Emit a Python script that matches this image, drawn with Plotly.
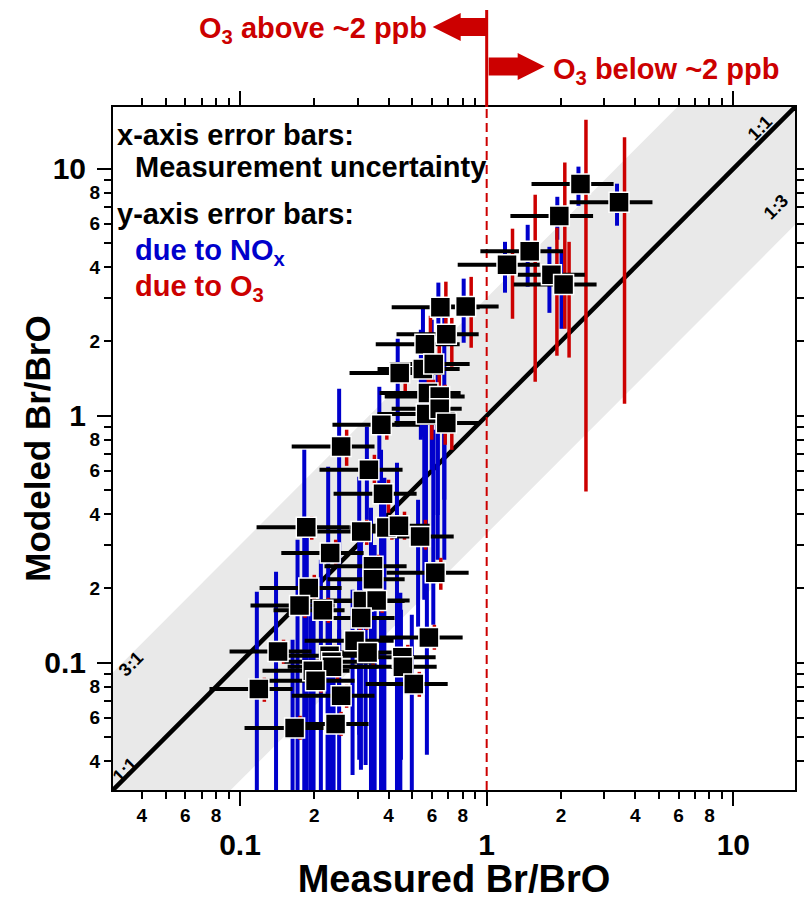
import numpy as np
import plotly.graph_objects as go

# ---------------- data ----------------
measured = [2.40, 3.44, 1.97, 1.494, 1.209, 1.83, 2.05, 0.822,
            0.649, 0.686, 0.562, 0.551, 0.610, 0.444, 0.578, 0.645, 0.569, 0.645, 0.686, 0.374,
            0.257, 0.333, 0.380, 0.1856, 0.310, 0.392, 0.441, 0.537, 0.232, 0.346, 0.346, 0.619,
            0.190, 0.1743, 0.2167, 0.315, 0.358, 0.310, 0.1426, 0.2913, 0.329, 0.583, 0.455,
            0.4575, 0.5065, 0.2307, 0.235, 0.236, 0.1973, 0.2024, 0.1192, 0.257, 0.1664, 0.244]
modeled = [8.67, 7.31, 6.44, 4.63, 4.09, 3.72, 3.40, 2.77,
           2.75, 2.14, 1.95, 1.546, 1.62, 1.489, 1.236, 1.197, 1.016, 1.067, 0.934, 0.920,
           0.751, 0.604, 0.483, 0.354, 0.340, 0.353, 0.3585, 0.3245, 0.278, 0.246, 0.218, 0.2314,
           0.201, 0.1706, 0.1631, 0.178, 0.1787, 0.1517, 0.111, 0.1227, 0.110, 0.1265, 0.1054,
           0.0963, 0.082, 0.1067, 0.1009, 0.0963, 0.0928, 0.0845, 0.0784, 0.0735, 0.0544, 0.0565]
meas_low = [1.52, 2.17, 1.248, 0.943, 0.763, 1.336, 1.287, 0.598,
            0.412, 0.431, 0.355, 0.361, 0.404, 0.278, 0.368, 0.386, 0.361, 0.412, 0.423, 0.237,
            0.162, 0.210, 0.2395, 0.1167, 0.206, 0.278, 0.305, 0.412, 0.147, 0.220, 0.2265, 0.393,
            0.120, 0.1103, 0.1367, 0.1913, 0.2306, 0.210, 0.0907, 0.1827, 0.210, 0.368, 0.305,
            0.278, 0.323, 0.1515, 0.1515, 0.156, 0.1234, 0.1257, 0.0752, 0.162, 0.1043, 0.156]
meas_high = [3.27, 4.70, 2.70, 2.04, 1.64, 2.50, 2.79, 1.118,
             0.937, 0.928, 0.777, 0.777, 0.853, 0.675, 0.784, 0.814, 0.742, 0.792, 0.937, 0.535,
             0.351, 0.456, 0.520, 0.278, 0.465, 0.535, 0.587, 0.735, 0.317, 0.4735, 0.465, 0.845,
             0.258, 0.2416, 0.2654, 0.465, 0.487, 0.423, 0.195, 0.4195, 0.465, 0.799, 0.621,
             0.627, 0.695, 0.368, 0.351, 0.361, 0.278, 0.2913, 0.1633, 0.351, 0.218, 0.332]
nox_high = [10.2, 8.70, 7.70, 5.93, 5.06, 4.83, 4.57, 3.59,
            3.46, 2.95, 2.74, 2.23, 2.45, 2.05, 1.766, 1.685, 1.399, 1.335, 1.216, 1.31,
            1.286, 0.903, 0.728, 0.728, 0.566, 0.561, 0.645, 0.457, 0.622, 0.424, 0.379, 0.878,
            0.3206, 0.315, 0.261, 0.315, 0.300, 0.238, 0.2335, 0.1975, 0.180, 0.2108, 0.192,
            0.1638, 0.1564, 0.180, 0.1717, 0.1638, 0.180, 0.1638, 0.194, 0.136, 0.124, 0.1129]
nox_low = [7.08, 5.88, 5.16, 3.33, 3.15, 2.61, 2.25, 1.975,
           2.23, 0.457, 0.822, 0.800, 0.604, 0.903, 0.1975, 0.261, 0.180, 0.397, 0.261, 0.457,
           0.0777, 0.379, 0.02, 0.02, 0.0511, 0.02, 0.02, 0.140, 0.02, 0.02, 0.02, 0.1425,
           0.02, 0.02, 0.02, 0.0369, 0.02, 0.0405, 0.02, 0.0351, 0.0386, 0.0424, 0.02,
           0.0405, 0.02, 0.02, 0.02, 0.02, 0.02, 0.02, 0.02, 0.02, 0.02, 0.02]
o3_high = [15.8, 13.4, 10.6, 7.85, 5.72, 5.77, 5.06, 3.65,
           3.49, 2.49, 2.54, 2.03, 2.13, 1.536, 1.399, 1.335, 1.16, 1.16, 0.853, 1.028,
           0.878, 0.695, 0.551, 0.390, 0.379, 0.397, 0.409, 0.379, 0.315, 0.2737, 0.2446, 0.266,
           0.227, 0.192, 0.1833, 0.201, 0.201, 0.170, 0.124, 0.1385, 0.124, 0.1425, 0.1182,
           0.1077, 0.0919, 0.1182, 0.1129, 0.1077, 0.1028, 0.0937, 0.087, 0.0814, 0.061, 0.0633]
o3_low = [0.494, 1.118, 2.25, 1.373, 2.47, 1.75, 1.72, 1.885,
          2.29, 1.58, 1.16, 1.16, 0.963, 1.194, 0.963, 1.057, 0.800, 0.763, 0.728, 0.800,
          0.627, 0.526, 0.405, 0.315, 0.300, 0.315, 0.315, 0.287, 0.249, 0.221, 0.194, 0.1975,
          0.180, 0.152, 0.1451, 0.158, 0.1594, 0.136, 0.099, 0.1087, 0.098, 0.1129, 0.0937,
          0.0853, 0.0728, 0.0954, 0.0902, 0.0853, 0.083, 0.0756, 0.0695, 0.0657, 0.0488, 0.0506]

major_vals = [0.1, 1, 10]
major_text = ["0.1", "1", "10"]
minor_label_vals = [0.04, 0.06, 0.08, 0.2, 0.4, 0.6, 0.8, 2, 4, 6, 8]
minor_label_text = ["4", "6", "8", "2", "4", "6", "8", "2", "4", "6", "8"]
minor_plain_vals = [0.03, 0.05, 0.07, 0.09, 0.3, 0.5, 0.7, 0.9, 3, 5, 7, 9]

# ---------------- layout constants ----------------
W, H = 804, 900
ML, MR, MT, MB = 113, 9, 107, 110
PW, PH = W - ML - MR, H - MT - MB
LOG_MIN, LOG_MAX = -1.515, 1.25
FONT = "Liberation Sans, Arial, Helvetica, sans-serif"
RED = "#cc0000"
BLUE = "#0000cc"

def px(xpix):
    return (xpix - ML) / PW

def py(ypix):
    return (H - MB - ypix) / PH

vmin, vmax = 10 ** LOG_MIN, 10 ** LOG_MAX
dec_px = PW / (LOG_MAX - LOG_MIN)
m = np.array(measured); mo = np.array(modeled)

fig = go.Figure()

# grey band between 3:1 and 1:3
band_x = [vmin, vmax / 3, vmax, vmax, 3 * vmin, vmin]
band_y = [3 * vmin, vmax, vmax, vmax / 3, vmin, vmin]
fig.add_trace(go.Scatter(x=band_x, y=band_y, fill="toself", fillcolor="#e9e9e9",
                         line=dict(width=0), mode="lines", hoverinfo="skip", showlegend=False))
# 1:1 line
fig.add_trace(go.Scatter(x=[vmin, vmax], y=[vmin, vmax], mode="lines",
                         line=dict(color="black", width=4.5), hoverinfo="skip", showlegend=False))
# dashed x = 1 line
fig.add_trace(go.Scatter(x=[1, 1], y=[vmin, vmax], mode="lines",
                         line=dict(color=RED, width=2, dash="9px,5px"), hoverinfo="skip", showlegend=False))

# y-error bars due to NOx (blue, slightly left) and due to O3 (red, slightly right)
fb = 10 ** (-2.0 / dec_px)
fr = 10 ** (5.5 / dec_px)
fig.add_trace(go.Scatter(
    x=m * fb, y=mo, mode="markers", marker=dict(size=1, color="rgba(0,0,0,0)"),
    error_y=dict(type="data", symmetric=False, array=np.array(nox_high) - mo,
                 arrayminus=mo - np.array(nox_low), color=BLUE, thickness=4, width=0),
    hoverinfo="skip", showlegend=False))
fig.add_trace(go.Scatter(
    x=m * fr, y=mo, mode="markers", marker=dict(size=1, color="rgba(0,0,0,0)"),
    error_y=dict(type="data", symmetric=False, array=np.array(o3_high) - mo,
                 arrayminus=mo - np.array(o3_low), color=RED, thickness=3.5, width=0),
    hoverinfo="skip", showlegend=False))
# markers with measurement uncertainty (x-error bars)
fig.add_trace(go.Scatter(
    x=m, y=mo, mode="markers", xaxis="x2", yaxis="y2",
    marker=dict(symbol="square", size=20, color="black", line=dict(color="white", width=1.5)),
    error_x=dict(type="data", symmetric=False, array=np.array(meas_high) - m,
                 arrayminus=m - np.array(meas_low), color="black", thickness=4, width=0),
    showlegend=False))

tick_common = dict(type="log", range=[LOG_MIN, LOG_MAX], showgrid=False, zeroline=False,
                   ticks="outside", tickcolor="black", tickwidth=2, mirror="ticks",
                   automargin=False, fixedrange=True)
minor_ax = dict(tick_common, tickmode="array", tickvals=minor_label_vals, ticktext=minor_label_text,
                ticklen=7, showline=True, linewidth=2, linecolor="black",
                tickfont=dict(family=FONT, size=19, color="black", weight="bold"),
                minor=dict(tickmode="array", tickvals=minor_plain_vals, ticks="outside",
                           ticklen=7, tickwidth=2, tickcolor="black", showgrid=False))
major_ax = dict(tick_common, tickmode="array", tickvals=major_vals, ticktext=major_text,
                ticklen=15, showline=False,
                tickfont=dict(family=FONT, size=30, color="black", weight="bold"))

fig.update_layout(
    width=W, height=H, margin=dict(l=ML, r=MR, t=MT, b=MB, autoexpand=False),
    paper_bgcolor="white", plot_bgcolor="white", showlegend=False,
    xaxis=dict(minor_ax),
    yaxis=dict(minor_ax, title=dict(text="Modeled Br/BrO", standoff=28,
                                    font=dict(family=FONT, size=35, color="black", weight="bold"))),
    xaxis2=dict(major_ax, overlaying="x", anchor="y", side="bottom", ticklabelstandoff=13,
                title=dict(text="Measured Br/BrO", standoff=10,
                           font=dict(family=FONT, size=38, color="black", weight="bold"))),
    yaxis2=dict(major_ax, overlaying="y", anchor="x", side="left", ticklabelstandoff=5),
)

# red marker of x = 1 above the plot and the two arrows
x1p = ML + (0 - LOG_MIN) * dec_px
shapes = [
    dict(type="line", xref="paper", yref="paper", x0=px(x1p), x1=px(x1p), y0=1, y1=py(10),
         line=dict(color=RED, width=3)),
]
left_arrow = [(x1p, 18), (x1p - 26, 18), (x1p - 26, 13), (x1p - 54, 27),
              (x1p - 26, 41), (x1p - 26, 36), (x1p, 36)]
right_arrow = [(x1p + 2, 57.5), (x1p + 31, 57.5), (x1p + 31, 53), (x1p + 58, 66.5),
               (x1p + 31, 80), (x1p + 31, 75.5), (x1p + 2, 75.5)]
for pts in (left_arrow, right_arrow):
    path = "M " + " L ".join(f"{px(a):.5f},{py(b):.5f}" for a, b in pts) + " Z"
    shapes.append(dict(type="path", xref="paper", yref="paper", path=path,
                       fillcolor=RED, line=dict(color=RED, width=0)))
fig.update_layout(shapes=shapes)

ann = []
def text(t, xpix, ypix, size, color="black", xanchor="left", angle=0):
    ann.append(dict(text=t, x=px(xpix), y=py(ypix), xref="paper", yref="paper",
                    xanchor=xanchor, yanchor="middle", showarrow=False, textangle=angle,
                    font=dict(family=FONT, size=size, color=color, weight="bold")))

text("O<sub>3</sub> above ~2 ppb", 429, 30, 29, RED, "right")
text("O<sub>3</sub> below ~2 ppb", 551, 71, 29, RED, "left")
text("x-axis error bars:", 115, 135, 29)
text("Measurement uncertainty", 133, 167, 29)
text("y-axis error bars:", 115, 214, 29)
text("due to NO<sub>x</sub>", 133, 252, 29, BLUE)
text("due to O<sub>3</sub>", 133, 288, 29, RED)
text("3:1", 131, 664, 18, "black", "center", -45)
text("1:1", 125, 770, 18, "black", "center", -45)
text("1:1", 760, 128, 18, "black", "center", -45)
text("1:3", 776, 207, 18, "black", "center", -45)
fig.update_layout(annotations=ann)

fig.write_html("out.html")
